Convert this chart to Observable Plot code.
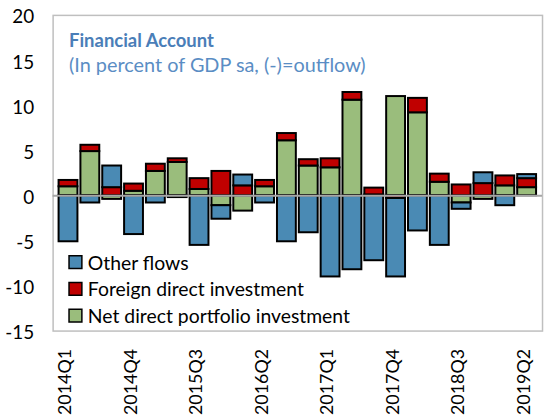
<!DOCTYPE html>
<html>
<head>
<meta charset="utf-8">
<script src="https://cdn.jsdelivr.net/npm/d3@7"></script>
<script src="https://cdn.jsdelivr.net/npm/@observablehq/plot@0.6"></script>
<style>
  html, body { margin: 0; padding: 0; background: #fff; overflow: hidden; }
  #chart { width: 546px; height: 420px; overflow: hidden; }
</style>
</head>
<body>
<div id="chart"></div>
<script>
const quarters = ["2014Q1","2014Q2","2014Q3","2014Q4","2015Q1","2015Q2","2015Q3","2015Q4",
  "2016Q1","2016Q2","2016Q3","2016Q4","2017Q1","2017Q2","2017Q3","2017Q4",
  "2018Q1","2018Q2","2018Q3","2018Q4","2019Q1","2019Q2"];
const tickLabels = ["2014Q1","2014Q4","2015Q3","2016Q2","2017Q1","2017Q4","2018Q3","2019Q2"];
const yTicks = [-15, -10, -5, 0, 5, 10, 15, 20];

const portfolio = [1.0, 4.9, -0.4, 0.5, 2.7, 3.7, 0.7, -1.1, -1.7, 1.0, 6.1, 3.3, 3.1, 10.6, 0.1, 11.0, 9.2, 1.5, -0.8, -0.4, 1.1, 0.9];
const fdi       = [0.7, 0.7, 0.9, 0.8, 0.8, 0.4, 1.2, 2.7, 1.1, 0.7, 0.8, 0.7, 1.0, 0.85, 0.75, -0.3, 1.6, 0.9, 1.2, 1.35, 1.1, 1.0];
const other     = [-5.1, -0.8, 2.4, -4.3, -0.8, -0.2, -5.5, -1.5, 1.2, -0.8, -5.1, -4.1, -9.0, -8.2, -7.2, -8.7, -3.9, -5.5, -0.7, 1.2, -1.1, 0.45];

const seriesNames = ["Net direct portfolio investment", "Foreign direct investment", "Other flows"];
const seriesColors = ["#9abd7c", "#c00000", "#4a8ab4"];
const legendOrder = ["Other flows", "Foreign direct investment", "Net direct portfolio investment"];
const legendColors = ["#4a8ab4", "#c00000", "#9abd7c"];

const data = quarters.flatMap((q, i) => [
  {quarter: q, series: seriesNames[0], value: portfolio[i]},
  {quarter: q, series: seriesNames[1], value: fdi[i]},
  {quarter: q, series: seriesNames[2], value: other[i]}
]);

const font = "Lato, 'Open Sans', sans-serif";

const legendMarks = legendOrder.flatMap((name, i) => [
  Plot.dot([name], {frameAnchor: "bottom-left", dx: 22.5, dy: -69.5 + 27 * i, symbol: "square", r: 7.3,
    fill: legendColors[i], stroke: "#000", strokeWidth: 1.5}),
  Plot.text([name], {frameAnchor: "bottom-left", dx: 35, dy: -62 + 27 * i, text: d => d,
    textAnchor: "start", lineAnchor: "bottom", fontSize: 19.5, fill: "#000"})
]);

const chart = Plot.plot({
  width: 550,
  height: 420,
  marginLeft: 53,
  marginRight: 4,
  marginTop: 15,
  marginBottom: 87,
  style: {fontFamily: font, fontSize: "18px", color: "#000", background: "#fff"},
  x: {domain: quarters, padding: 0.15, axis: null},
  y: {domain: [-15, 20], axis: null},
  color: {domain: seriesNames, range: seriesColors},
  marks: [
    Plot.frame({stroke: "#bfbfbf", strokeWidth: 1.5}),
    Plot.axisY({ticks: yTicks, tickSize: 0, tickPadding: 19, tickFormat: d => String(d), label: null, fontSize: 19, dy: 2}),
    Plot.axisX({ticks: tickLabels, tickSize: 0, tickPadding: 18, tickRotate: -90, label: null, fontSize: 18, dx: -3}),
    Plot.barY(data, Plot.stackY({x: "quarter", y: "value", fill: "series", order: null, stroke: "#000", strokeWidth: 2})),
    Plot.ruleY([0], {stroke: "#a6a6a6", strokeWidth: 2}),
    Plot.text(["Financial Account"], {frameAnchor: "top-left", dx: 16, dy: 31.7, text: d => d,
      textAnchor: "start", lineAnchor: "bottom", fontSize: 18.6, fontWeight: "bold", fill: "#4a7eb8"}),
    Plot.text(["(In percent of GDP sa, (-)=outflow)"], {frameAnchor: "top-left", dx: 16, dy: 57, text: d => d,
      textAnchor: "start", lineAnchor: "bottom", fontSize: 20, fill: "#5a8dc4"}),
    ...legendMarks
  ]
});
document.getElementById("chart").append(chart);
</script>
</body>
</html>
